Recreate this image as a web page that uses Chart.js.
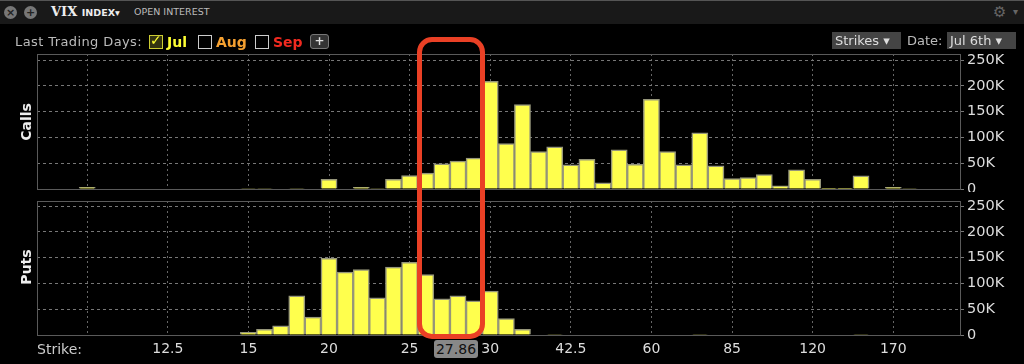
<!DOCTYPE html>
<html lang="en">
<head>
<meta charset="UTF-8" />
<title>VIX Open Interest</title>
<script src="https://cdn.jsdelivr.net/npm/chart.js"></script>
<style>
  html, body { margin: 0; padding: 0; background: #000; overflow: hidden; }
  body { width: 1024px; height: 364px; position: relative; font-family: "DejaVu Sans", sans-serif; color: #ccc; }
  .abs { position: absolute; white-space: nowrap; }
  canvas { position: absolute; left: 0; }
  #titlebar { left: 0; top: 0; width: 1024px; height: 24px; background: #191919; border-top: 1px solid #555; box-sizing: border-box; }
  .round { width: 13px; height: 13px; border-radius: 50%; background: #777; color: #222; font: bold 11px/13px "DejaVu Sans"; text-align: center; top: 6px; }
  .box { width: 12px; height: 12px; border: 1px solid #ccc; top: 35px; }
  .exp { top: 34px; font: bold 14px/16px "DejaVu Sans"; }
  .select { background: #444; color: #ddd; top: 32px; height: 17px; font: 13px/17px "DejaVu Sans"; padding: 0 3px; box-sizing: border-box; }
  .side { font: bold 14px/16px "DejaVu Sans"; color: #eee; transform: translate(-50%, -50%) rotate(-90deg); }
  #redbox { left: 417px; top: 37px; width: 68px; height: 302px; border: 5.5px solid #ea4025; border-radius: 15px; box-sizing: border-box; }
  #spot { left: 434px; top: 340px; width: 44px; height: 18px; background: #888; color: #111; border-radius: 3px; font: 14px/18px "DejaVu Sans"; text-align: center; }
</style>
</head>
<body>
  <canvas id="callsChart" width="1024" height="142" style="top:50px"></canvas>
  <canvas id="putsChart" width="1024" height="168" style="top:197px"></canvas>

  <div class="abs" id="titlebar"></div>
  <div class="abs round" style="left:4px">×</div>
  <div class="abs round" style="left:24px">+</div>
  <div class="abs" style="left:51px;top:3px;font:bold 13px/18px 'DejaVu Serif';color:#eee">VIX <span style="font:bold 9.5px 'DejaVu Sans'">INDEX▾</span></div>
  <div class="abs" style="left:134px;top:4px;font:9.5px/16px 'DejaVu Sans';color:#bbb">OPEN INTEREST</div>
  <div class="abs" style="left:993px;top:3px;font:15px/18px 'DejaVu Sans';color:#666">⚙</div>
  <div class="abs" style="left:1013px;top:4px;font:10px/16px 'DejaVu Sans';color:#666">▾</div>

  <div class="abs" style="left:15px;top:33px;font:13px/18px 'DejaVu Sans';color:#bbb;letter-spacing:0.4px">Last Trading Days:</div>
  <div class="abs box" style="left:149px;border-color:#cc3;background:#333310"></div>
  <div class="abs" style="left:150px;top:31px;font:bold 14px/18px 'DejaVu Sans';color:#ff3">✓</div>
  <div class="abs exp" style="left:167px;color:#ff3">Jul</div>
  <div class="abs box" style="left:198px"></div>
  <div class="abs exp" style="left:216px;color:#f5a030">Aug</div>
  <div class="abs box" style="left:255px"></div>
  <div class="abs exp" style="left:273px;color:#f02a20">Sep</div>
  <div class="abs" style="left:310px;top:34px;width:17px;height:13px;background:#333;border:1px solid #777;border-radius:3px;color:#ddd;font:bold 12px/13px 'DejaVu Sans';text-align:center">+</div>

  <div class="abs select" style="left:832px;width:69px">Strikes ▾</div>
  <div class="abs" style="left:907px;top:32px;font:13px/17px 'DejaVu Sans';color:#bbb">Date:</div>
  <div class="abs select" style="left:947px;width:69px">Jul 6th&nbsp;▾</div>

  <div class="abs side" style="left:26px;top:122px">Calls</div>
  <div class="abs side" style="left:26px;top:267px">Puts</div>
  <div class="abs" style="left:37px;top:341px;font:14px/16px 'DejaVu Sans';color:#ccc">Strike:</div>
  <div class="abs" id="spot">27.86</div>
  <div class="abs" id="redbox"></div>

<script>
  const strikes = [8.5,9,9.5,10,10.5,11,11.5,12,12.5,13,13.5,14,14.5,15,16,17,18,19,20,21,22,23,24,25,26,27,28,29,30,32.5,35,37.5,40,42.5,45,47.5,50,55,60,65,70,75,80,85,90,95,100,110,120,130,140,150,160,170,180,190,200];
  const calls = [0,0,0,3000,0,0,0,0,0,0,0,0,0,1000,1000,0,1000,0,19000,0,3000,1000,19000,26000,31000,49000,54000,60000,209000,88000,164000,72500,82000,47000,57500,12000,76000,48000,174000,72500,47000,109000,45000,20000,22000,28000,6000,37000,19000,500,500,25500,0,3000,1000,0,0];
  const puts = [0,0,0,0,0,0,0,0,0,0,0,0,0,5000,11000,18000,76000,35000,149000,122000,127000,72000,132000,141000,117000,70000,76000,66500,85000,32000,11000,0,1000,0,0,0,0,0,0,0,0,1000,0,0,0,0,0,0,0,0,0,1000,0,0,0,0,0];
  const tickStrikes = [10,12.5,15,20,25,30,42.5,60,85,120,170];
  const tickLabels = ['','12.5','15','20','25','30','42.5','60','85','120','170'];
  const valueTicks = [0,50000,100000,150000,200000,250000];

  function frame(color) {
    return {
      id: 'frame',
      beforeDatasetsDraw(chart) {
        const a = chart.chartArea, c = chart.ctx;
        c.save();
        c.strokeStyle = color;
        c.lineWidth = 1;
        c.strokeRect(a.left + 0.5, a.top + 0.5, a.right - a.left, a.bottom - a.top);
        c.restore();
      }
    };
  }

  function makeChart(id, values, yMax, xHeight, showLabels) {
    new Chart(document.getElementById(id), {
      type: 'bar',
      data: { datasets: [{
        data: values.map((v, i) => ({ x: i, y: v })),
        backgroundColor: '#ffff4d',
        borderColor: '#96967a',
        borderWidth: 1.5,
        categoryPercentage: 1,
        barPercentage: 1
      }] },
      options: {
        responsive: false,
        animation: false,
        layout: { padding: { left: 37, top: 4, right: 0, bottom: showLabels ? 0 : 3 } },
        plugins: { legend: { display: false }, tooltip: { enabled: false } },
        scales: {
          x: {
            type: 'linear',
            offset: false,
            min: -0.114,
            max: 57.14,
            afterBuildTicks(scale) { scale.ticks = tickStrikes.map(s => ({ value: strikes.indexOf(s) })); },
            afterFit(scale) { scale.height = xHeight; scale.paddingLeft = 0; scale.paddingRight = 0; },
            grid: { offset: false, color: '#666', drawTicks: false },
            border: { display: false, dash: [2, 3] },
            ticks: {
              display: showLabels,
              autoSkip: false,
              maxRotation: 0,
              padding: 6,
              color: '#ddd',
              font: { family: 'DejaVu Sans', size: 14 },
              callback: (v) => tickLabels[tickStrikes.indexOf(strikes[v])]
            }
          },
          y: {
            position: 'right',
            min: 0,
            max: yMax,
            afterBuildTicks(scale) { scale.ticks = valueTicks.map(v => ({ value: v })); },
            afterFit(scale) { scale.width = 64; scale.paddingTop = 0; scale.paddingBottom = 0; },
            grid: { color: '#777', tickColor: '#777', tickLength: 4 },
            border: { display: false, dash: [3, 3] },
            ticks: {
              padding: 3,
              color: '#ddd',
              font: { family: 'DejaVu Sans', size: 14.5 },
              callback: (v) => v === 0 ? '0' : (v / 1000) + 'K'
            }
          }
        }
      },
      plugins: [frame('#5a5a5a')]
    });
  }

  makeChart('callsChart', calls, 262000, 0, false);
  makeChart('putsChart', puts, 260000, 30, true);
</script>
</body>
</html>
